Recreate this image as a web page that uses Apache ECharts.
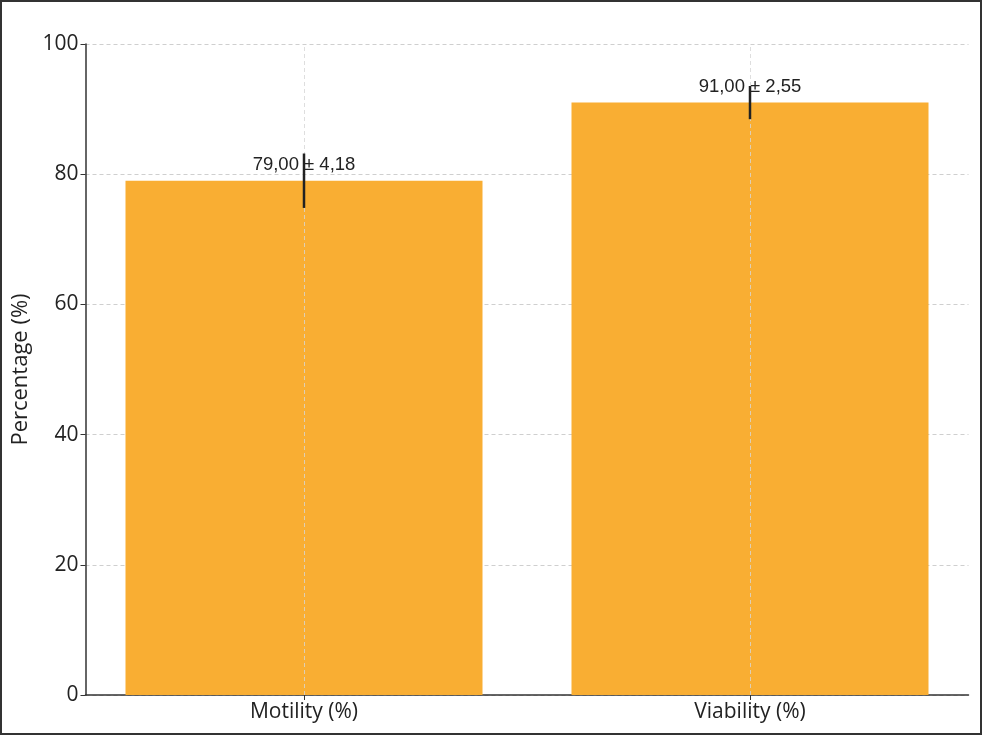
<!DOCTYPE html>
<html>
<head>
<meta charset="utf-8">
<script src="https://cdn.jsdelivr.net/npm/echarts@6/dist/echarts.min.js"></script>
<style>
  html, body { margin: 0; padding: 0; background: #fff; }
  #chart { width: 982px; height: 735px; }
</style>
</head>
<body>
<div id="chart"></div>
<script>
var categories = ['Motility (%)', 'Viability (%)'];
var means = [79.00, 91.00];
var sds = [4.18, 2.55];
var yTicks = [0, 20, 40, 60, 80, 100];

function fmt(v) {
    return v.toFixed(2).replace('.', ',');
}

var errData = means.map(function(m, i) {
    return [i, m - sds[i], m + sds[i]];
});

var chart = echarts.init(document.getElementById('chart'));
chart.setOption({
    animation: false,
    graphic: [{
        type: 'rect',
        shape: { x: 1, y: 1, width: 980, height: 733 },
        style: { fill: 'none', stroke: '#333', lineWidth: 2 },
        z: 100
    }],
    // grid 0 carries the visible frame axes, grid 1 places the bars (matplotlib margins)
    grid: [
        { left: 85.5, right: 13.5, top: 44, bottom: 40 },
        { left: 81, right: 9, top: 44, bottom: 40 }
    ],
    xAxis: [{
        type: 'category',
        gridIndex: 0,
        data: categories,
        axisLine: { lineStyle: { color: '#333', width: 1.5 } },
        axisTick: { show: false },
        axisLabel: { show: false },
        splitLine: { show: false }
    }, {
        type: 'category',
        gridIndex: 1,
        data: categories,
        axisLine: { show: false },
        axisTick: { show: true, alignWithLabel: true, length: 5, lineStyle: { color: '#333' } },
        axisLabel: { color: '#222', fontSize: 21, fontFamily: 'Open Sans', margin: 7 },
        splitLine: { show: false }
    }],
    yAxis: [{
        type: 'value',
        gridIndex: 0,
        min: yTicks[0],
        max: yTicks[yTicks.length - 1],
        interval: 20,
        name: 'Percentage (%)',
        nameLocation: 'middle',
        nameGap: 54,
        nameTextStyle: { color: '#222', fontSize: 22, fontFamily: 'Open Sans' },
        axisLine: { show: true, lineStyle: { color: '#333', width: 1.5 } },
        axisTick: { show: true, length: 5, lineStyle: { color: '#333' } },
        axisLabel: { color: '#222', fontSize: 21, fontFamily: 'Open Sans', margin: 7 },
        splitLine: { show: true, lineStyle: { color: '#cfcfcf', type: [4, 3], width: 1 } }
    }, {
        type: 'value',
        gridIndex: 1,
        min: yTicks[0],
        max: yTicks[yTicks.length - 1],
        interval: 20,
        show: false
    }],
    series: [{
        type: 'bar',
        xAxisIndex: 1,
        yAxisIndex: 1,
        data: means,
        barWidth: 357,
        itemStyle: { color: '#F9AE33' },
        label: {
            show: true,
            position: 'top',
            distance: 6,
            color: '#222',
            fontSize: 18.5,
            fontFamily: 'Liberation Sans',
            formatter: function(p) {
                return fmt(means[p.dataIndex]) + ' ± ' + fmt(sds[p.dataIndex]);
            }
        },
        markLine: {
            silent: true,
            symbol: 'none',
            label: { show: false },
            lineStyle: { color: '#d6d6d6', type: [4, 3], width: 1, opacity: 0.8 },
            data: [{ xAxis: 0 }, { xAxis: 1 }]
        }
    }, {
        type: 'custom',
        xAxisIndex: 1,
        yAxisIndex: 1,
        z: 10,
        data: errData,
        renderItem: function(params, api) {
            var lo = api.coord([api.value(0), api.value(1)]);
            var hi = api.coord([api.value(0), api.value(2)]);
            return {
                type: 'line',
                shape: { x1: lo[0], y1: lo[1], x2: hi[0], y2: hi[1] },
                style: { stroke: '#222', lineWidth: 2.5 }
            };
        }
    }]
});
</script>
</body>
</html>
